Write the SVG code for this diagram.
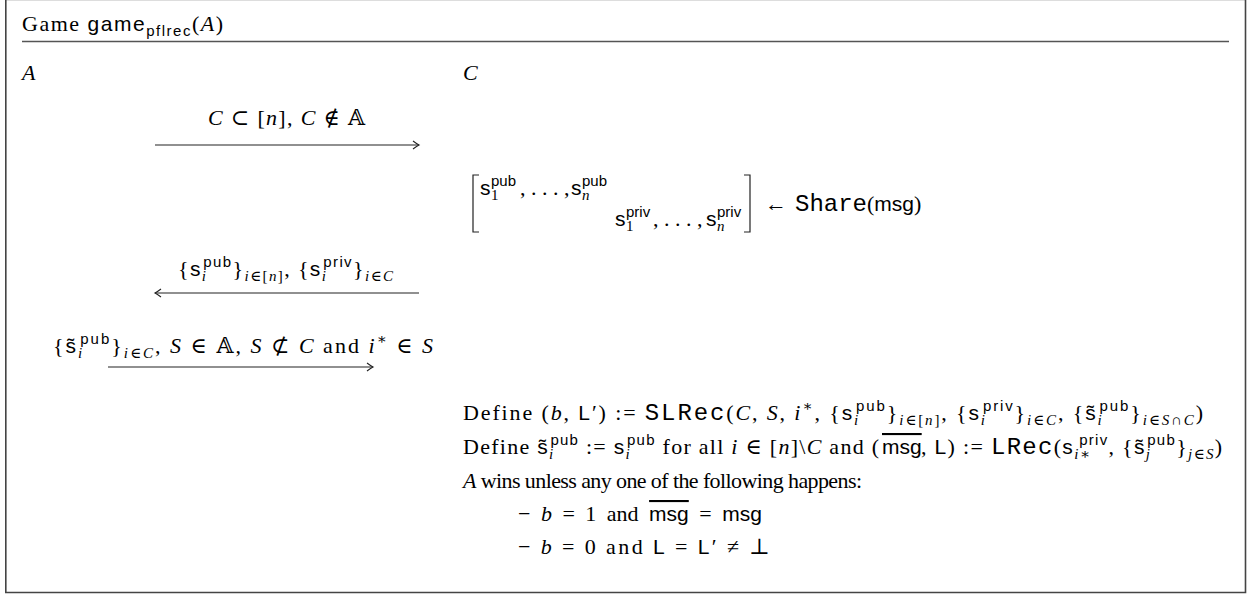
<svg xmlns="http://www.w3.org/2000/svg" width="1248" height="594" viewBox="0 0 1248 594">
<defs>
<style>
.t{font-family:"Liberation Serif","DejaVu Serif",serif;font-size:22px;fill:#000}
.i{font-style:italic}
.sf{font-family:"Liberation Sans","DejaVu Sans",sans-serif;font-style:normal;font-size:21px}
.tt{font-family:"Liberation Mono","DejaVu Sans Mono",monospace;font-style:normal;font-size:24px}
.sp{font-size:15px;baseline-shift:9px}
.sb{font-size:15px;baseline-shift:-5px}
.ln{stroke:#222;stroke-width:1.2;fill:none}
</style>
<marker id="ah" viewBox="-8 -5 10 10" refX="0" refY="0" markerWidth="10" markerHeight="10" markerUnits="userSpaceOnUse" orient="auto-start-reverse">
<path d="M-6,-4 Q-2,-1 0,0 Q-2,1 -6,4" fill="none" stroke="#222" stroke-width="1.1"/>
</marker>
</defs>
<rect width="1248" height="594" fill="#fff"/>
<g id="frame">
<line x1="5" y1="0.5" x2="1246" y2="0.5" stroke="#ddd" stroke-width="1"/>
<path d="M5.8,0 V592.5 H1245.5 V0" fill="none" stroke="#444" stroke-width="1.6"/>
<line x1="22" y1="41.5" x2="1229" y2="41.5" stroke="#555" stroke-width="1.5"/>
</g>
<g id="title">
<text class="t" x="22" y="31" textLength="201" lengthAdjust="spacing">Game <tspan class="sf">game</tspan><tspan class="sf sb">pflrec</tspan>(<tspan class="i">A</tspan>)</text>
</g>
<g id="party-A"><text class="t i" x="22" y="80">A</text></g>
<g id="party-C"><text class="t i" x="463" y="80">C</text></g>
<g id="connectors">
<line class="ln" x1="155" y1="145" x2="419" y2="145" marker-end="url(#ah)"/>
<line class="ln" x1="155" y1="293" x2="419" y2="293" marker-start="url(#ah)"/>
<line class="ln" x1="108" y1="367" x2="373" y2="367" marker-end="url(#ah)"/>
</g>
<g id="msg1">
<text class="t" x="208" y="125" textLength="157" lengthAdjust="spacing"><tspan class="i">C</tspan> ⊂ [<tspan class="i">n</tspan>], <tspan class="i">C</tspan> ∉ 𝔸</text>
</g>
<g id="share">
<path class="ln" d="M479,175 H473 V232 H479 M744,175 H750 V232 H744"/>
<text class="t" y="195"><tspan x="480" class="sf">s</tspan><tspan x="491" class="sb">1</tspan><tspan x="491" class="sf sp">pub</tspan><tspan x="520">, . . . ,</tspan><tspan x="571" class="sf">s</tspan><tspan x="582" class="sb i">n</tspan><tspan x="582" class="sf sp">pub</tspan></text>
<text class="t" y="226"><tspan x="615" class="sf">s</tspan><tspan x="626" class="sb">1</tspan><tspan x="626" class="sf sp">priv</tspan><tspan x="653">, . . . ,</tspan><tspan x="706" class="sf">s</tspan><tspan x="717" class="sb i">n</tspan><tspan x="717" class="sf sp">priv</tspan></text>
<text class="t" y="211"><tspan x="765">←</tspan><tspan x="795" class="tt">Share</tspan><tspan x="867">(</tspan><tspan class="sf">msg</tspan>)</text>
</g>
<g id="msg2">
<text class="t" x="178" y="276" textLength="215" lengthAdjust="spacing">{<tspan class="sf">s</tspan><tspan class="sb i">i</tspan><tspan class="sf sp" dx="-4">pub</tspan>}<tspan class="sb i">i</tspan><tspan class="sb">∈[</tspan><tspan class="sb i">n</tspan><tspan class="sb">]</tspan>, {<tspan class="sf">s</tspan><tspan class="sb i">i</tspan><tspan class="sf sp" dx="-4">priv</tspan>}<tspan class="sb i">i</tspan><tspan class="sb">∈</tspan><tspan class="sb i">C</tspan></text>
</g>
<g id="msg3">
<text class="t" x="53" y="353" textLength="380" lengthAdjust="spacing">{<tspan class="sf">s̃</tspan><tspan class="sb i">i</tspan><tspan class="sf sp" dx="-4">pub</tspan>}<tspan class="sb i">i</tspan><tspan class="sb">∈</tspan><tspan class="sb i">C</tspan>, <tspan class="i">S</tspan> ∈ 𝔸, <tspan class="i">S</tspan> ⊄ <tspan class="i">C</tspan> and <tspan class="i">i</tspan><tspan class="sp">∗</tspan> ∈ <tspan class="i">S</tspan></text>
</g>
<g id="checks">
<text class="t" x="463" y="420" textLength="740" lengthAdjust="spacing">Define (<tspan class="i">b</tspan>, <tspan class="sf">L</tspan>′) := <tspan class="tt">SLRec</tspan>(<tspan class="i">C</tspan>, <tspan class="i">S</tspan>, <tspan class="i">i</tspan><tspan class="sp">∗</tspan>, {<tspan class="sf">s</tspan><tspan class="sb i">i</tspan><tspan class="sf sp" dx="-4">pub</tspan>}<tspan class="sb i">i</tspan><tspan class="sb">∈[</tspan><tspan class="sb i">n</tspan><tspan class="sb">]</tspan>, {<tspan class="sf">s</tspan><tspan class="sb i">i</tspan><tspan class="sf sp" dx="-4">priv</tspan>}<tspan class="sb i">i</tspan><tspan class="sb">∈</tspan><tspan class="sb i">C</tspan>, {<tspan class="sf">s̃</tspan><tspan class="sb i">i</tspan><tspan class="sf sp" dx="-4">pub</tspan>}<tspan class="sb i">i</tspan><tspan class="sb">∈</tspan><tspan class="sb i">S</tspan><tspan class="sb">∩</tspan><tspan class="sb i">C</tspan>)</text>
<text class="t" x="463" y="454" textLength="416" lengthAdjust="spacing">Define <tspan class="sf">s̃</tspan><tspan class="sb i">i</tspan><tspan class="sf sp" dx="-4">pub</tspan> := <tspan class="sf">s</tspan><tspan class="sb i">i</tspan><tspan class="sf sp" dx="-4">pub</tspan> for all <tspan class="i">i</tspan> ∈ [<tspan class="i">n</tspan>]\<tspan class="i">C</tspan> and (</text>
<text class="t" x="882" y="454"><tspan class="sf" font-size="19" text-decoration="overline">msg</tspan></text>
<text class="t" x="921" y="454" textLength="301" lengthAdjust="spacing">, <tspan class="sf">L</tspan>) := <tspan class="tt">LRec</tspan>(<tspan class="sf">s</tspan><tspan class="sb i">i</tspan><tspan class="sb">∗</tspan><tspan class="sf sp" dx="-12">priv</tspan>, {<tspan class="sf">s̃</tspan><tspan class="sb i">j</tspan><tspan class="sf sp" dx="-4">pub</tspan>}<tspan class="sb i">j</tspan><tspan class="sb">∈</tspan><tspan class="sb i">S</tspan>)</text>
<text class="t" x="463" y="488" textLength="399" lengthAdjust="spacing"><tspan class="i">A</tspan> wins unless any one of the following happens:</text>
<text class="t" x="518" y="521" word-spacing="5">− <tspan class="i">b</tspan> = 1 and <tspan class="sf" text-decoration="overline">msg</tspan> = <tspan class="sf">msg</tspan></text>
<text class="t" x="518" y="554" textLength="252" lengthAdjust="spacing">− <tspan class="i">b</tspan> = 0 and <tspan class="sf">L</tspan> = <tspan class="sf">L</tspan>′ ≠ ⊥</text>
</g>
</svg>
